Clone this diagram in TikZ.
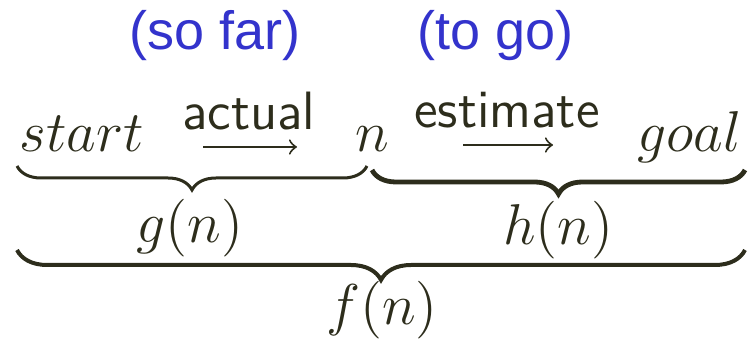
\documentclass[tikz,border=0pt]{standalone}
\usepackage{fontspec}
\newfontfamily\notefont{Liberation Sans}
\usepackage{tikz}
\usetikzlibrary{decorations.pathreplacing, arrows}
\definecolor{ink}{RGB}{45,45,28}
\definecolor{noteblue}{RGB}{51,51,204}
\tikzset{
  term/.style={inner sep=0pt, anchor=base, text=ink, font=\fontsize{14}{17}\selectfont},
  tag/.style={inner sep=0pt, anchor=base, text=ink, font=\fontsize{13.5}{16}\selectfont\sffamily},
  note/.style={inner sep=0pt, anchor=base, text=noteblue, font=\fontsize{13.5}{16}\selectfont\notefont},
  underbr/.style={draw=ink, decorate, decoration={brace, mirror, amplitude=#1}},
}

\begin{document}
\begin{tikzpicture}[x=0.25pt, y=-0.25pt, >=to]
    \useasboundingbox (0,0) rectangle (749,340);

    % Remarques en bleu au-dessus
    \node[note] (sofar) at (215,50) {(so far)};
    \node[note] (togo) at (496,50) {(to go)};

    % Les trois termes du chemin
    \node[term, anchor=base west] (start) at (19,152) {$start$};
    \node[term] (n) at (372,152) {$n$};
    \node[term, anchor=base east] (goal) at (742,152) {$goal$};

    % Fleches avec leurs etiquettes
    \node[tag] (actual) at (249,130) {actual};
    \node[tag] (estimate) at (507,128) {estimate};
    \coordinate (a1) at (203,147);
    \coordinate (a2) at (297,147);
    \coordinate (e1) at (463,145);
    \coordinate (e2) at (553,145);
    \draw[->, ink, line width=0.5pt] (a1) -- (a2);
    \draw[->, ink, line width=0.5pt] (e1) -- (e2);

    % Accolades du dessous
    \coordinate (g1) at (17,166);
    \coordinate (g2) at (367,166);
    \coordinate (h1) at (372,170);
    \coordinate (h2) at (745,170);
    \coordinate (f1) at (17,250);
    \coordinate (f2) at (745,250);
    \draw[underbr=6pt, line width=0.75pt] (g1) -- (g2);
    \draw[underbr=6pt, line width=1.2pt] (h1) -- (h2);
    \draw[underbr=7.5pt, line width=1pt] (f1) -- (f2);

    % Noms des fonctions
    \node[term] (gn) at (190,243) {$g(n)$};
    \node[term] (hn) at (558,245) {$h(n)$};
    \node[term] (fn) at (382,325) {$f(n)$};

\end{tikzpicture}
\end{document}
